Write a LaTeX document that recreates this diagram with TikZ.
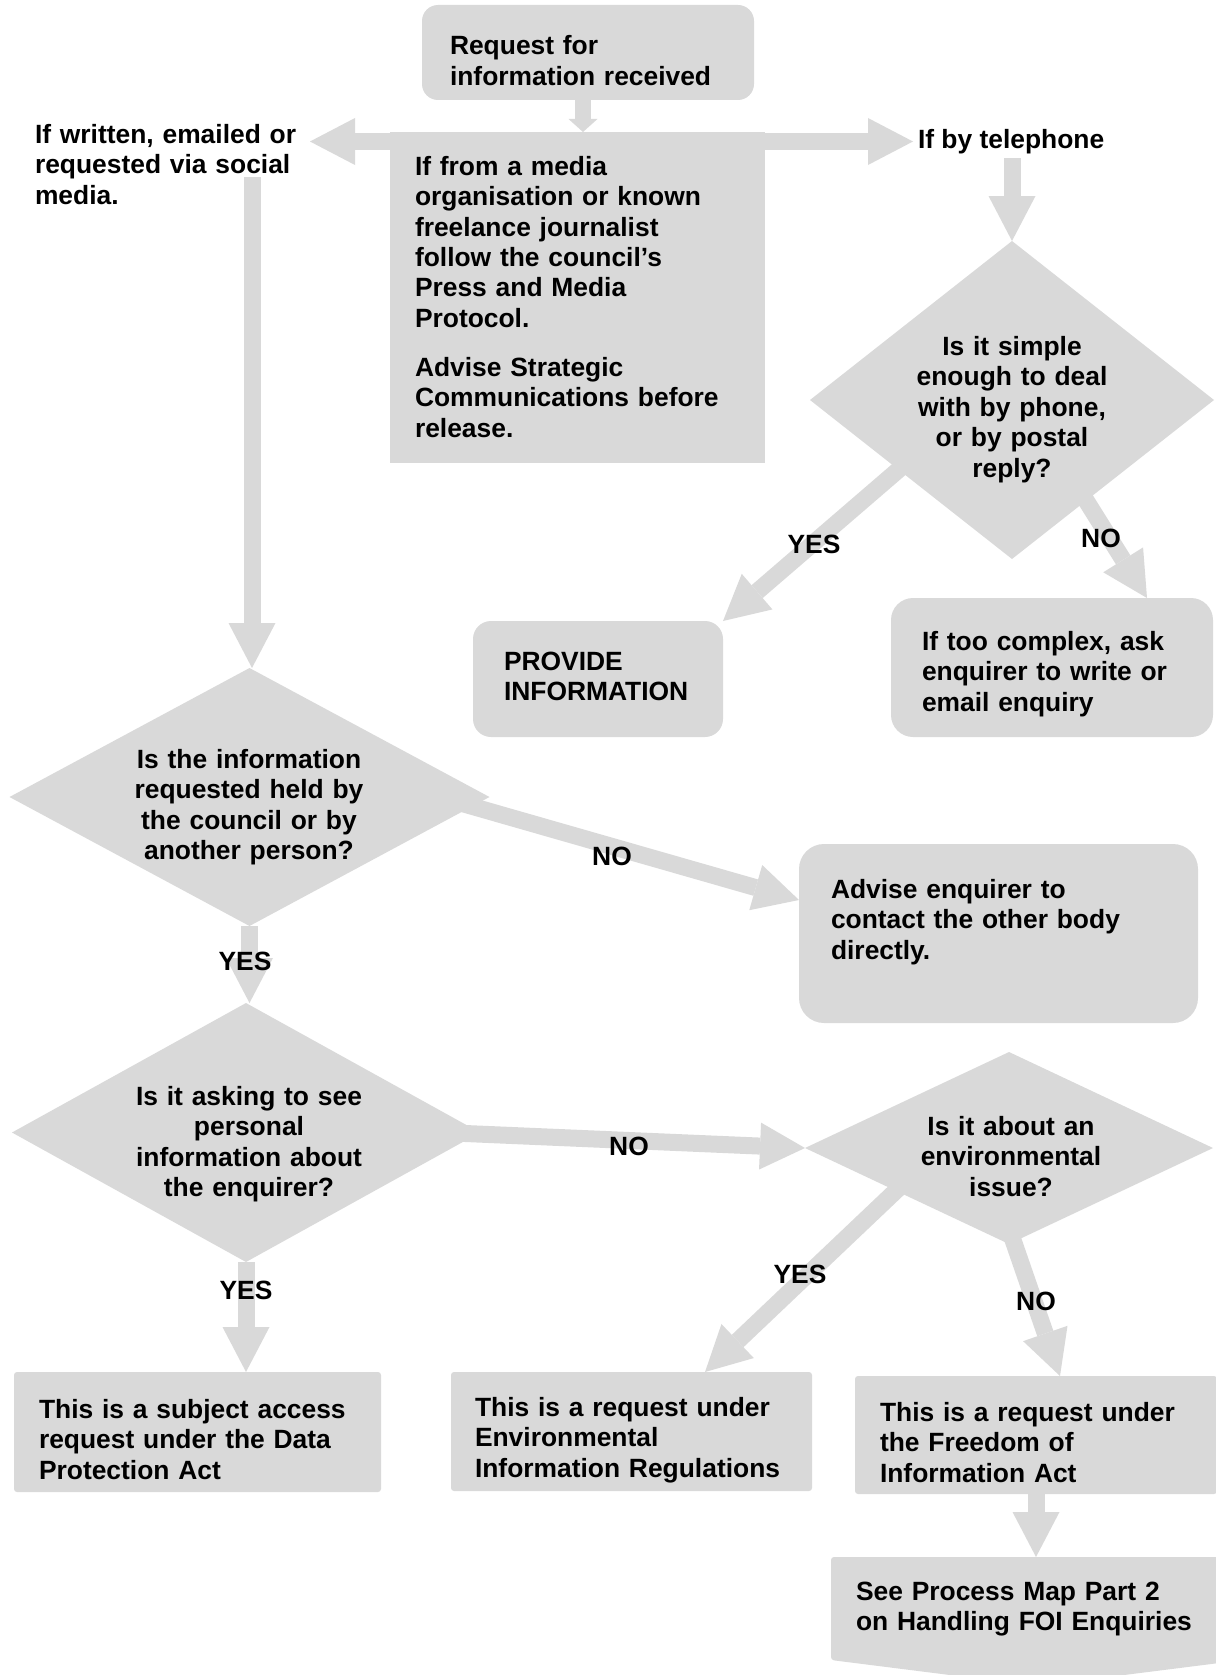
\documentclass[tikz,border=0pt]{standalone}
\usepackage{fontspec}
\setmainfont{Liberation Sans}
\usetikzlibrary{shapes.geometric,arrows.meta,calc,backgrounds}
\definecolor{boxgray}{RGB}{217,217,217}
\begin{document}
\begin{tikzpicture}[x=1pt,y=-1pt,
  box/.style={rectangle,fill=boxgray,inner sep=0pt,outer sep=0pt},
  dia/.style={diamond,fill=boxgray,inner sep=0pt,outer sep=0pt},
  txt/.style={font=\fontsize{26.4}{30.5}\selectfont\bfseries,inner sep=0pt,outer sep=0pt,anchor=base west,align=left},
  ctxt/.style={font=\fontsize{26.4}{30.5}\selectfont\bfseries,inner sep=0pt,outer sep=0pt,anchor=base,align=center},
  lbl/.style={font=\fontsize{26.4}{30.5}\selectfont\bfseries,inner sep=0pt,outer sep=0pt,anchor=base},
  conn/.style={draw=boxgray,line width=17pt,-{Triangle[width=47pt,length=45pt,line width=0pt]}},
  connsmall/.style={draw=boxgray,line width=16pt,-{Triangle[width=29pt,length=13pt,line width=0pt]}}]

\useasboundingbox (0,0) rectangle (1215,1675);

% shapes
\node[box,rounded corners=16pt,minimum width=332pt,minimum height=95pt] (top) at (588,52.5) {};
\node[box,minimum width=375pt,minimum height=331pt] (med) at (577.5,297.5) {};
\node[dia,minimum width=404pt,minimum height=318pt] (d2) at (1012,400) {};
\node[box,rounded corners=18pt,minimum width=250pt,minimum height=116pt] (prov) at (598,679) {};
\node[box,rounded corners=22pt,minimum width=322pt,minimum height=139pt] (cpx) at (1052,667.5) {};
\node[dia,minimum width=480pt,minimum height=258pt] (d1) at (249.5,797) {};
\node[box,rounded corners=25pt,minimum width=399pt,minimum height=179pt] (adv) at (998.5,933.5) {};
\node[dia,minimum width=468pt,minimum height=259pt] (d3) at (246,1132.5) {};
\node[dia,minimum width=408pt,minimum height=192pt] (d4) at (1009,1148) {};
\node[box,rounded corners=3pt,minimum width=367pt,minimum height=120pt] (subj) at (197.5,1432) {};
\node[box,rounded corners=3pt,minimum width=361pt,minimum height=119pt] (eir) at (631.5,1431.5) {};
\node[box,rounded corners=3pt,minimum width=362pt,minimum height=118pt] (foi) at (1036,1435) {};
\node[inner sep=0pt,outer sep=0pt,minimum width=412pt,minimum height=103pt] (see) at (1037,1608.5) {};
\fill[boxgray,rounded corners=3pt] (see.north west) -- (see.north east) -- (see.south east) -- ($(see.south)+(0,26)$) -- (see.south west) -- cycle;

% texts
\node[txt,text width=300pt] (topt) at (450,55) {Request for\\information received};
\node[txt,text width=275pt] (lt) at (35,143) {If written, emailed or\\requested via social\\media.};
\node[txt] (tel) at (918,149) {If by telephone};
\node[txt,text width=340pt] (medt) at (415,175) {If from a media\\organisation or known\\freelance journalist\\follow the council’s\\Press and Media\\Protocol.\\[18pt]Advise Strategic\\Communications before\\release.};
\node[ctxt,text width=260pt] (d2t) at (1012,355) {Is it simple\\enough to deal\\with by phone,\\or by postal\\reply?};
\node[txt,text width=220pt] (provt) at (504,670) {PROVIDE\\INFORMATION};
\node[txt,text width=285pt] (cpxt) at (922,650) {If too complex, ask\\enquirer to write or\\email enquiry};
\node[ctxt,text width=300pt] (d1t) at (249,768) {Is the information\\requested held by\\the council or by\\another person?};
\node[txt,text width=360pt] (advt) at (831,898) {Advise enquirer to\\contact the other body\\directly.};
\node[ctxt,text width=300pt] (d3t) at (249,1105) {Is it asking to see\\personal\\information about\\the enquirer?};
\node[ctxt,text width=260pt] (d4t) at (1011,1135) {Is it about an\\environmental\\issue?};
\node[txt,text width=340pt] (subjt) at (39,1418) {This is a subject access\\request under the Data\\Protection Act};
\node[txt,text width=330pt] (eirt) at (475,1416) {This is a request under\\Environmental\\Information Regulations};
\node[txt,text width=320pt] (foit) at (880,1421) {This is a request under\\the Freedom of\\Information Act};
\node[txt,text width=340pt] (seet) at (856,1600) {See Process Map Part 2\\on Handling FOI Enquiries};

% labels
\node[lbl] (l1) at (814,553) {YES};
\node[lbl] (l2) at (1101,547) {NO};
\node[lbl] (l3) at (612,865) {NO};
\node[lbl] (l4) at (245,970) {YES};
\node[lbl] (l5) at (629,1155) {NO};
\node[lbl] (l6) at (800,1283) {YES};
\node[lbl] (l7) at (1036,1310) {NO};
\node[lbl] (l8) at (246,1299) {YES};

% connectors
\coordinate (hy) at (0,141.5);
\coordinate (ls) at (252,177);
\begin{scope}[on background layer]
\draw[connsmall] ($(top.south)+(-5,0)$) -- ($(top.south |- med.north)+(-5,0)$);
\draw[conn] (hy -| med.west) -- (hy -| lt.east);
\draw[conn] (hy -| med.east) -- ($(hy -| tel.west)+(-5,0)$);
\draw[conn] ($(tel.south -| d2.north)+(0,4)$) -- (d2.north);
\draw[conn] (ls) -- (ls |- d1.north);
\draw[conn] ($(d2.center)+(-94,53)$) -- (prov.north east);
\draw[conn] ($(d2.center)+(55,70)$) -- ($(cpx.north)+(95,0)$);
\draw[conn] ($(d1.center)+(190,0)$) -- ($(adv.west)+(0,-33.5)$);
\draw[conn] (d1.south) -- (d1.south |- d3.north);
\draw[conn] ($(d3.center)+(196,0)$) -- (d4.west);
\draw[conn] (d3.south) -- (d3.south |- subj.north);
\draw[conn] ($(d4.center)+(-87,18)$) -- ($(eir.north)+(73.5,0)$);
\draw[conn] ($(d4.center)+(-14,40)$) -- ($(foi.north)+(24,0)$);
\draw[conn] (foi.south) -- (foi.south |- see.north);
\end{scope}
\end{tikzpicture}
\end{document}
